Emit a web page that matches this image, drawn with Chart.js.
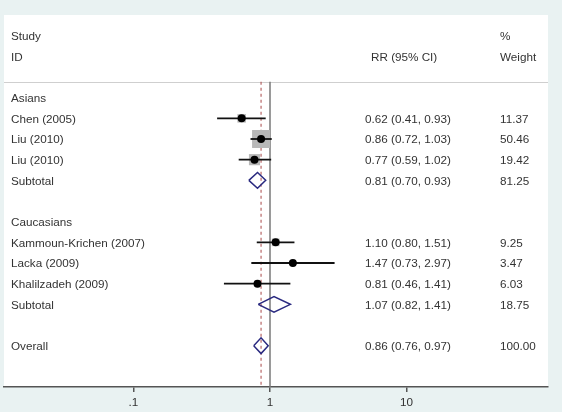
<!DOCTYPE html>
<html>
<head>
<meta charset="utf-8">
<script src="https://cdn.jsdelivr.net/npm/chart.js@4"></script>
<style>
html,body{margin:0;padding:0;background:#e9f2f2;}
#wrap{width:562px;height:412px;position:relative;}
</style>
</head>
<body>
<div id="wrap"><canvas id="c"></canvas></div>
<script>
// ---- data ----
const rowLabels = ['Asians','Chen (2005)','Liu (2010)','Liu (2010)','Subtotal','','Caucasians','Kammoun-Krichen (2007)','Lacka (2009)','Khalilzadeh (2009)','Subtotal','','Overall'];
const rowKinds  = ['group','study','study','study','pooled','blank','group','study','study','study','pooled','blank','pooled'];
const rrValues  = [null,0.62,0.86,0.77,0.81,null,null,1.10,1.47,0.81,1.07,null,0.86];
const ciLower   = [null,0.41,0.72,0.59,0.70,null,null,0.80,0.73,0.46,0.82,null,0.76];
const ciUpper   = [null,0.93,1.03,1.02,0.93,null,null,1.51,2.97,1.41,1.41,null,0.97];
const weights   = [null,11.37,50.46,19.42,81.25,null,null,9.25,3.47,6.03,18.75,null,100.00];
const tickValues = [0.1, 1, 10];
const tickLabels = ['.1', '1', '10'];
const overallRR = rrValues[12];
const headerLeft = ['Study','ID'];
const headerMid = 'RR (95% CI)';
const headerRight = ['%','Weight'];

// ---- styles ----
const FONT = '11.7px "Liberation Sans", Arial, sans-serif';
const TXT = '#333333';
const NAVY = '#2a2a80';
const ROW_TOP = -4, ROW_BOTTOM = 14, SEP_ROW = -0.77, DIAM_H = 0.38;

const idx = rowLabels.map((_, i) => i);
const studyIdx = idx.filter(i => rowKinds[i] === 'study');
const pooledIdx = idx.filter(i => rowKinds[i] === 'pooled');

const datasets = [];
// reference lines
datasets.push({type:'line', data:[{x:1,y:SEP_ROW},{x:1,y:ROW_BOTTOM}], borderColor:'#7a7a7a', borderWidth:1.5, pointRadius:0, order:10});
datasets.push({type:'line', data:[{x:overallRR,y:SEP_ROW},{x:overallRR,y:ROW_BOTTOM}], borderColor:'#a84848', borderWidth:1, borderDash:[3,3], pointRadius:0, order:9});
// weight boxes
datasets.push({type:'scatter', data: studyIdx.map(i => ({x: rrValues[i], y: i, w: weights[i]})),
  pointStyle:'rect', backgroundColor:'#b8b8b8', borderWidth:0,
  pointRadius: ctx => { const w = ctx.raw ? ctx.raw.w : 0; return 2.53*Math.sqrt(w)/1.414; }, order:8});
// CI lines
studyIdx.forEach(i => datasets.push({type:'line', data:[{x:ciLower[i],y:i},{x:ciUpper[i],y:i}], borderColor:'#111', borderWidth:1.8, pointRadius:0, order:7}));
// point estimates
datasets.push({type:'scatter', data: studyIdx.map(i => ({x: rrValues[i], y: i})), pointStyle:'circle', backgroundColor:'#000', borderWidth:0, pointRadius:4, order:6});
// diamonds
pooledIdx.forEach(i => datasets.push({type:'line', data:[
  {x:ciLower[i],y:i},{x:rrValues[i],y:i-DIAM_H},{x:ciUpper[i],y:i},{x:rrValues[i],y:i+DIAM_H},{x:ciLower[i],y:i}],
  borderColor:NAVY, borderWidth:1.5, pointRadius:0, fill:false, tension:0, order:5}));

const bgPlugin = {
  id:'bg',
  beforeDraw(chart){
    const {ctx, chartArea:a} = chart;
    ctx.save();
    ctx.fillStyle = '#e9f2f2';
    ctx.fillRect(0,0,chart.width,chart.height);
    ctx.fillStyle = '#ffffff';
    ctx.fillRect(a.left, a.top, a.right-a.left, a.bottom-a.top);
    const ys = chart.scales.y.getPixelForValue(SEP_ROW);
    ctx.strokeStyle = '#cfcfcf'; ctx.lineWidth = 1;
    ctx.beginPath(); ctx.moveTo(a.left, Math.round(ys)+0.5); ctx.lineTo(a.right, Math.round(ys)+0.5); ctx.stroke();
    ctx.restore();
  }
};
const textPlugin = {
  id:'texts',
  afterDatasetsDraw(chart){
    const {ctx} = chart; const y = chart.scales.y;
    ctx.save();
    ctx.font = FONT; ctx.fillStyle = TXT; ctx.textBaseline = 'middle'; ctx.textAlign = 'left';
    const xLab = 11, xRR = 365, xW = 500;
    ctx.fillText(headerLeft[0], xLab, y.getPixelForValue(-3)+1);
    ctx.fillText(headerLeft[1], xLab, y.getPixelForValue(-2)+1);
    ctx.fillText(headerMid, 371, y.getPixelForValue(-2)+1);
    ctx.fillText(headerRight[0], xW, y.getPixelForValue(-3)+1);
    ctx.fillText(headerRight[1], xW, y.getPixelForValue(-2)+1);
    idx.forEach(i => {
      const py = y.getPixelForValue(i)+1;
      if (rowLabels[i]) ctx.fillText(rowLabels[i], xLab, py);
      if (rrValues[i] != null) {
        ctx.fillText(rrValues[i].toFixed(2)+' ('+ciLower[i].toFixed(2)+', '+ciUpper[i].toFixed(2)+')', xRR, py);
        ctx.fillText(weights[i].toFixed(2), xW, py);
      }
    });
    ctx.restore();
  }
};

const decade = 136.6, x1 = 270, left = 4, right = 548;
const xMin = Math.pow(10, (left - x1)/decade);
const xMax = Math.pow(10, (right - x1)/decade);

new Chart(document.getElementById('c'), {
  type:'scatter',
  data:{datasets},
  options:{
    responsive:true, maintainAspectRatio:false, animation:false,
    layout:{autoPadding:false, padding:{left:left, right:562-right, top:15, bottom:0}},
    plugins:{legend:{display:false}, tooltip:{enabled:false}},
    scales:{
      x:{type:'logarithmic', min:xMin, max:xMax,
        afterBuildTicks: s => { s.ticks = tickValues.map(v => ({value:v})); },
        afterFit: s => { s.height = 25; },
        ticks:{autoSkip:false, maxRotation:0, padding:4, color:TXT, font:{family:'"Liberation Sans", Arial, sans-serif', size:11.7},
          callback:(v,i) => tickLabels[i]},
        grid:{drawOnChartArea:false, drawTicks:true, tickLength:5, color:'#555', lineWidth:1.5},
        border:{display:true, color:'#555', width:1.5}
      },
      y:{type:'linear', reverse:true, min:ROW_TOP, max:ROW_BOTTOM, display:false}
    }
  },
  plugins:[bgPlugin, textPlugin]
});
</script>
</body>
</html>
